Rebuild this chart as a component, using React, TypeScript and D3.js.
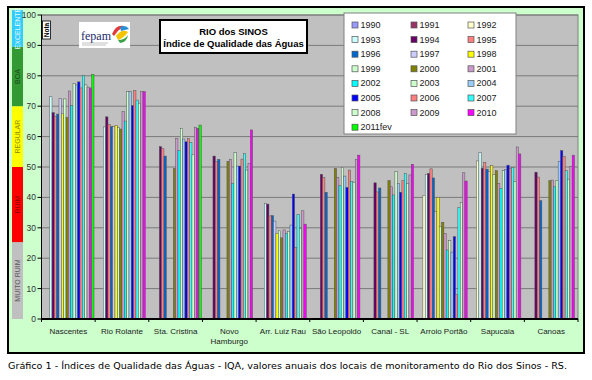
import React from "react";
import * as d3 from "d3";

const categories = ["Nascentes", "Rio Rolante", "Sta. Cristina", "Novo Hamburgo", "Arr. Luiz Rau", "São Leopoldo", "Canal - SL", "Arroio Portão", "Sapucaia", "Canoas"];
const seriesNames = ["1990", "1991", "1992", "1993", "1994", "1995", "1996", "1997", "1998", "1999", "2000", "2001", "2002", "2003", "2004", "2005", "2006", "2007", "2008", "2009", "2010", "2011fev"];
const seriesColors = ["#9999FF", "#993366", "#FFFFCC", "#CCFFFF", "#660066", "#FF8080", "#0066CC", "#CCCCFF", "#FFFF00", "#CCFFCC", "#808000", "#CC99CC", "#00FFFF", "#CCFFCC", "#99CCFF", "#0000FF", "#FF7F7F", "#33FFFF", "#CCFFCC", "#CC99CC", "#FF00FF", "#00FF00"];

const N = null;
const v1990 = [N, N, N, N, N, N, N, N, N, N];
const v1991 = [N, N, N, N, N, N, N, N, N, N];
const v1992 = [N, N, N, N, N, N, N, 40.7, 52, N];
const v1993 = [73.1, 63.2, N, N, 38, N, N, 47.6, 54.8, N];
const v1994 = [67.9, 66.5, 56.7, 53.6, 37.8, 47.6, 44.8, 47.9, 49.6, 48.3];
const v1995 = [66.7, 63.9, 56, 51.8, 33.9, 46.6, 41.8, 49.4, 51.5, 46.7];
const v1996 = [67.4, 63.3, 53.6, 52.5, 34, 41.7, 43.1, 46.4, 49.3, 38.9];
const v1997 = [72.6, 63.3, N, N, 32.2, N, N, 35.3, 48.5, N];
const v1998 = [67.5, 63.7, N, N, 28.2, N, N, 40, 50.5, N];
const v1999 = [72.4, 63, N, N, 29, N, N, 30.5, 47.5, N];
const v2000 = [66.3, 62.5, 49.5, 51.9, 26.7, 49.5, 45.5, 31.8, 48.8, 45.5];
const v2001 = [75, 68.2, 59.4, 52.5, 29.3, 46.6, 43.5, 28.2, 44.6, 45.7];
const v2002 = [70.3, 65.1, 55.4, 44.6, 28.2, 43.9, 40.8, 22.7, 43, 43.5];
const v2003 = [77.5, 74.8, 62.7, 54.7, 28.8, 49.9, 48.5, 25.8, 48.8, 45.6];
const v2004 = [77, 74.8, 59.2, 50.3, 30.9, 47, 44.6, 22, 49.1, 51.8];
const v2005 = [78, 70.2, 58.3, 50.3, 41.1, 43.3, 41.7, 27.1, 50.6, 55.4];
const v2006 = [76, 75.1, 59.4, 52.6, 23.6, 49, 45.5, 8, 49.5, 53.4];
const v2007 = [80.1, 72, 58.1, 54.4, 34.4, 45.2, 47.8, 36.6, 49.8, 48.8];
const v2008 = [77, 71, 54, 49, 29.8, 45, 44.6, 38.3, 45.2, 46];
const v2009 = [76.3, 74.8, 63.1, 51.2, 35.6, 52.5, 47.4, 48.1, 56.6, 50.1];
const v2010 = [76, 74.8, 62.7, 62.2, 31.2, 53.9, 50.9, 45.4, 54.3, 53.9];
const v2011fev = [80.5, N, 63.8, N, N, N, N, N, N, N];

const seriesValues = [v1990, v1991, v1992, v1993, v1994, v1995, v1996, v1997, v1998, v1999, v2000, v2001, v2002, v2003, v2004, v2005, v2006, v2007, v2008, v2009, v2010, v2011fev];

const yTicks = [0, 10, 20, 30, 40, 50, 60, 70, 80, 90, 100];

const bands = [
  { label: "MUITO RUIM", from: 0, to: 25.3, fill: "#C0C0C0", text: "#5a5a5a" },
  { label: "RUIM", from: 25.3, to: 50, fill: "#FF0000", text: "#8a0000" },
  { label: "REGULAR", from: 50, to: 70, fill: "#FFFF00", text: "#8c8c00" },
  { label: "BOA", from: 70, to: 89.5, fill: "#339933", text: "#1a4d1a" },
  { label: "EXCELENTE", from: 89.5, to: 101.6, fill: "#33CCFF", text: "#e8f8ff" },
];

const caption = "Gráfico 1 - Índices de Qualidade das Águas - IQA, valores anuais dos locais de monitoramento do Rio dos Sinos - RS.";

export default function App() {
  const W = 592, H = 380;
  const plotL = 41.5, plotR = 578, plotT = 15, plotB = 319;
  const x = d3.scaleBand<string>().domain(categories).range([plotL, plotR]).paddingInner(0).paddingOuter(0);
  const xs = d3.scaleBand<string>().domain(seriesNames).range([0, x.bandwidth()]).paddingInner(0).paddingOuter(0.5);
  const y = d3.scaleLinear().domain([0, 100]).range([plotB, plotT]);

  const font = "'Liberation Sans', Arial, sans-serif";

  const legendX = 344, legendY = 13, legendW = 172, legendH = 121;
  const colX = [352, 411, 468];
  const rowH = 14.6;

  return (
    <svg width={W} height={H} style={{ position: "absolute", left: 0, top: 0, background: "#fff" }} fontFamily={font}>
      <rect x={0} y={0} width={W} height={H} fill="#fff" />
      {/* outer frame */}
      <rect x={8} y={7} width={576} height={346} fill="#CCFFCC" stroke="#000" strokeWidth={2} />
      {/* quality bands */}
      {bands.map((b) => {
        const y0 = y(b.to), y1 = y(b.from);
        const cy = (y0 + y1) / 2;
        return (
          <g key={b.label}>
            <rect x={12} y={y0} width={11} height={y1 - y0} fill={b.fill} />
            <text x={17.5} y={cy} transform={`rotate(-90 17.5 ${cy})`} textAnchor="middle" dominantBaseline="central" fontSize={7} fill={b.text}>{b.label}</text>
          </g>
        );
      })}
      {/* plot bg */}
      <rect x={plotL} y={plotT} width={plotR - plotL} height={plotB - plotT} fill="#C0C0C0" stroke="#808080" strokeWidth={1} />
      {/* grid */}
      {yTicks.filter((t) => t > 0).map((t) => (
        <line key={t} x1={plotL} x2={plotR} y1={y(t)} y2={y(t)} stroke="#7a7a7a" strokeWidth={1} />
      ))}
      {/* y axis */}
      <line x1={plotL} x2={plotL} y1={plotT} y2={plotB} stroke="#000" strokeWidth={1} />
      {yTicks.map((t) => (
        <g key={t}>
          <line x1={plotL - 4} x2={plotL} y1={y(t)} y2={y(t)} stroke="#000" strokeWidth={1} />
          <text x={36} y={y(t)} textAnchor="end" dominantBaseline="central" fontSize={8.5} fill="#333">{t}</text>
        </g>
      ))}
      {/* bars */}
      {seriesValues.map((vals, si) => (
        <g key={seriesNames[si]}>
          {vals.map((v, ci) => v == null ? null : (
            <rect key={ci} x={(x(categories[ci]) as number) + (xs(seriesNames[si]) as number)} y={y(v)} width={xs.bandwidth()} height={y(0) - y(v)} fill={seriesColors[si]} stroke="#555" strokeWidth={0.5} />
          ))}
        </g>
      ))}
      {/* x axis */}
      <line x1={plotL} x2={plotR} y1={plotB} y2={plotB} stroke="#000" strokeWidth={2} />
      {categories.map((c, i) => (
        <line key={"t" + i} x1={x(c) as number} x2={x(c) as number} y1={plotB} y2={plotB + 3} stroke="#000" strokeWidth={1} />
      ))}
      <line x1={plotR} x2={plotR} y1={plotB} y2={plotB + 3} stroke="#000" strokeWidth={1} />
      {categories.map((c) => {
        const cx = (x(c) as number) + x.bandwidth() / 2;
        const parts = c === "Novo Hamburgo" ? ["Novo", "Hamburgo"] : [c];
        return (
          <text key={c} x={cx} y={333.5} textAnchor="middle" fontSize={8} fill="#222">
            {parts.map((p, k) => <tspan key={k} x={cx} dy={k === 0 ? 0 : 10.5}>{p}</tspan>)}
          </text>
        );
      })}
      {/* Nota */}
      <rect x={42.5} y={21} width={8} height={18} fill="#fff" stroke="#000" strokeWidth={0.8} />
      <text x={46.5} y={30} transform="rotate(-90 46.5 30)" textAnchor="middle" dominantBaseline="central" fontSize={6.5} fontWeight="bold" fill="#000">Nota</text>
      {/* logo */}
      <rect x={79} y={22} width={51} height={26} fill="#fff" />
      <text x={81} y={40} fontFamily="'Liberation Serif', serif" fontSize={12} fill="#1a2a6c">fepam</text>
      <line x1={82} x2={108} y1={43} y2={43} stroke="#999" strokeWidth={0.6} />
      <line x1={82} x2={106} y1={45} y2={45} stroke="#999" strokeWidth={0.6} />
      <path d="M112,34 Q116,24 124,26 Q118,30 114,36 Z" fill="#e23b3b" />
      <path d="M116,36 Q122,28 128,32 Q124,38 118,40 Z" fill="#f5c400" />
      <path d="M120,27 Q126,24 129,29 Q125,30 121,31 Z" fill="#2b8fd6" />
      <path d="M118,40 Q125,40 128,35 Q127,42 120,43 Z" fill="#3aa34a" />
      {/* title */}
      <rect x={160} y={20} width={147} height={33} fill="#fff" stroke="#000" strokeWidth={2} />
      <text x={233.5} y={31} textAnchor="middle" dominantBaseline="central" fontSize={9.5} fontWeight="bold" fill="#000">RIO dos SINOS</text>
      <text x={233.5} y={43} textAnchor="middle" dominantBaseline="central" fontSize={9.5} fontWeight="bold" fill="#000">Índice de Qualidade das Águas</text>
      {/* legend */}
      <rect x={legendX} y={legendY} width={legendW} height={legendH} fill="#fff" stroke="#808080" strokeWidth={1} />
      {seriesNames.map((s, i) => {
        const col = i % 3, row = Math.floor(i / 3);
        const cy = 25 + row * rowH;
        return (
          <g key={s}>
            <rect x={colX[col]} y={cy - 3} width={6} height={6} fill={seriesColors[i]} stroke="#555" strokeWidth={0.7} />
            <text x={colX[col] + 8.5} y={cy} dominantBaseline="central" fontSize={9} fill="#222">{s}</text>
          </g>
        );
      })}
      {/* caption */}
      <text x={8} y={369} fontFamily="'DejaVu Sans', Verdana, sans-serif" fontSize={9.5} fill="#000" textLength={559} lengthAdjust="spacingAndGlyphs">{caption}</text>
    </svg>
  );
}
